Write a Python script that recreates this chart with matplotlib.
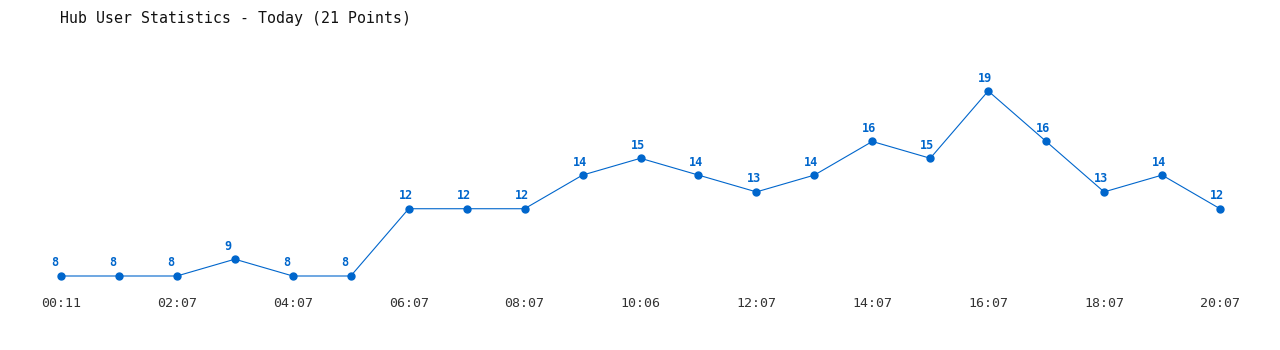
import matplotlib
matplotlib.use("Agg")
import matplotlib.pyplot as plt

times = ["00:11", "01:07", "02:07", "03:07", "04:07", "05:07", "06:07", "07:07",
         "08:07", "09:07", "10:06", "11:07", "12:07", "13:07", "14:07", "15:07",
         "16:07", "17:07", "18:07", "19:07", "20:07"]
users = [8, 8, 8, 9, 8, 8, 12, 12, 12, 14, 15, 14, 13, 14, 16, 15, 19, 16, 13, 14, 12]

color = "#0066CC"
W, H = 1280, 350

fig = plt.figure(figsize=(W / 100, H / 100), dpi=100)
# axes placed so the data area spans the plotted points
left, right = 61, 1220
top, bottom = 91, 276
ax = fig.add_axes([left / W, 1 - bottom / H, (right - left) / W, (bottom - top) / H])

x = list(range(len(users)))
ax.plot(x, users, color=color, lw=0.8, marker="o", markersize=5, clip_on=False)

# value labels sit left-aligned a little left of each point
for xi, v in zip(x, users):
    ax.annotate(str(v), (xi, v), xytext=(-10, 13), textcoords="offset pixels",
                ha="left", va="center", fontsize=8.5, fontweight="bold",
                family="DejaVu Sans Mono", color=color)

ax.set_xlim(0, len(users) - 1)
ax.set_ylim(min(users), max(users))
ax.set_xticks(x[::2])
ax.set_xticklabels(times[::2], family="DejaVu Sans Mono", fontsize=9.5, color="#333333")
ax.tick_params(axis="x", length=0, pad=15)
ax.set_yticks([])
for s in ax.spines.values():
    s.set_visible(False)

fig.text(60 / W, 1 - 18 / H, "Hub User Statistics - Today (21 Points)",
         family="DejaVu Sans Mono", fontsize=10.7, va="center", ha="left", color="#111111")

fig.savefig("out.png", dpi=100)
